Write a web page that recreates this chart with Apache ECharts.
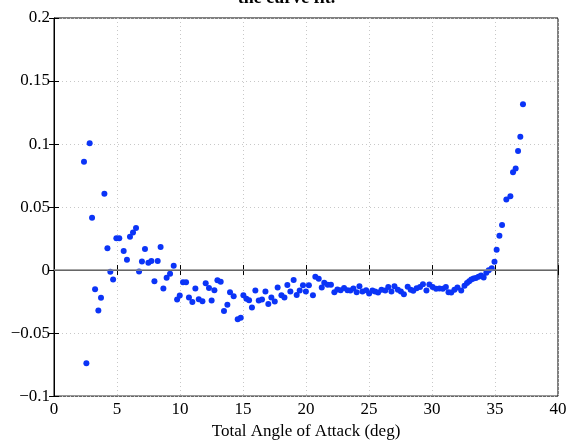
<!DOCTYPE html>
<html>
<head>
<meta charset="utf-8">
<script src="https://cdn.jsdelivr.net/npm/echarts@6/dist/echarts.min.js"></script>
<style>
  html, body { margin: 0; padding: 0; background: #fff; }
  #chart { width: 573px; height: 445px; }
</style>
</head>
<body>
<div id="chart"></div>
<script>
// angle of attack (deg) and residual values
var alphaDeg = [
  2.38, 2.57, 2.83, 3.02, 3.26, 3.52, 3.73, 4.00, 4.24, 4.47,
  4.69, 4.95, 5.18, 5.53, 5.79, 6.03, 6.27, 6.51, 6.75, 6.98,
  7.22, 7.49, 7.73, 7.97, 8.23, 8.46, 8.68, 8.94, 9.21, 9.50,
  9.77, 9.98, 10.24, 10.48, 10.71, 10.98, 11.22, 11.49, 11.78, 12.04,
  12.30, 12.51, 12.73, 12.97, 13.23, 13.49, 13.76, 13.97, 14.26, 14.58,
  14.82, 15.03, 15.27, 15.48, 15.71, 15.98, 16.25, 16.51, 16.78, 17.01,
  17.25, 17.52, 17.75, 18.05, 18.29, 18.52, 18.76, 19.02, 19.26, 19.50,
  19.76, 19.99, 20.23, 20.55, 20.74, 21.01, 21.25, 21.45, 21.72, 21.98,
  22.25, 22.49, 22.75, 23.02, 23.29, 23.52, 23.76, 24.02, 24.24, 24.48,
  24.77, 25.01, 25.27, 25.48, 25.72, 25.99, 26.29, 26.53, 26.78, 27.02,
  27.29, 27.53, 27.77, 28.07, 28.31, 28.51, 28.78, 29.05, 29.28, 29.56,
  29.79, 30.05, 30.32, 30.59, 30.86, 31.10, 31.31, 31.53, 31.78, 32.02,
  32.32, 32.58, 32.78, 32.95, 33.12, 33.30, 33.48, 33.69, 33.89, 34.10,
  34.31, 34.50, 34.74, 34.96, 35.13, 35.35, 35.56, 35.90, 36.22, 36.43,
  36.64, 36.83, 37.01, 37.22
];
var residual = [
  0.086, -0.074, 0.1006, 0.0415, -0.0152, -0.032, -0.022, 0.0606, 0.0173, -0.0013,
  -0.0074, 0.0252, 0.0252, 0.0152, 0.0081, 0.0265, 0.0299, 0.0333, -0.0011, 0.0068,
  0.0168, 0.0058, 0.0071, -0.0089, 0.0071, 0.0184, -0.0147, -0.006, -0.0029, 0.0034,
  -0.0234, -0.0202, -0.0097, -0.0097, -0.0218, -0.0254, -0.0147, -0.0231, -0.0247, -0.0105,
  -0.0142, -0.0241, -0.016, -0.0081, -0.0092, -0.0325, -0.0276, -0.0176, -0.0207, -0.0391,
  -0.0378, -0.0199, -0.0228, -0.0239, -0.0297, -0.0163, -0.0241, -0.0234, -0.0171, -0.027,
  -0.0218, -0.025, -0.0139, -0.0199, -0.0218, -0.0118, -0.0171, -0.0079, -0.0197, -0.0163,
  -0.0121, -0.0171, -0.0121, -0.0199, -0.0053, -0.0068, -0.0139, -0.01, -0.0116, -0.0116,
  -0.0176, -0.0155, -0.016, -0.0142, -0.016, -0.0163, -0.0147, -0.0176, -0.0129, -0.0171,
  -0.016, -0.0186, -0.0162, -0.017, -0.0178, -0.0157, -0.0162, -0.0135, -0.017, -0.0128,
  -0.0157, -0.017, -0.0191, -0.0133, -0.0157, -0.0165, -0.0144, -0.0135, -0.0112, -0.0162,
  -0.0115, -0.0135, -0.0149, -0.0146, -0.0149, -0.0135, -0.0176, -0.0178, -0.0157, -0.0139,
  -0.0162, -0.0125, -0.0102, -0.0088, -0.0075, -0.0067, -0.0062, -0.0054, -0.0044, -0.0059,
  -0.0022, -0.0001, 0.0014, 0.0065, 0.0162, 0.0273, 0.0357, 0.0559, 0.0585, 0.0777,
  0.0806, 0.0945, 0.1058, 0.1315
];
var yTickLabels = { '-0.1': '\u22120.1', '-0.05': '\u22120.05', '0': '0', '0.05': '0.05', '0.1': '0.1', '0.15': '0.15', '0.2': '0.2' };

var points = alphaDeg.map(function (a, i) { return [a, residual[i]]; });

var myChart = echarts.init(document.getElementById('chart'));
var serif = '"Liberation Serif", "DejaVu Serif", serif';

var gridLine = { show: true, lineStyle: { color: '#c8c8c8', type: [1, 3], width: 1 } };
var tickIn = { show: true, inside: true, length: 5, lineStyle: { color: '#000' } };

var option = {
  animation: false,
  backgroundColor: '#fff',
  graphic: [
    {
      type: 'text',
      left: 'center',
      top: -11,
      style: { text: 'the curve fit.', font: 'bold 18px ' + serif, fill: '#000' }
    }
  ],
  grid: {
    left: 54,
    right: 15,
    top: 18,
    bottom: 46,
    show: true,
    borderColor: '#000',
    borderWidth: 1
  },
  xAxis: [
    {
      type: 'value',
      min: 0,
      max: 40,
      interval: 5,
      name: 'Total Angle of Attack (deg)',
      nameLocation: 'middle',
      nameGap: 24,
      nameTextStyle: { fontFamily: serif, fontSize: 17, color: '#000' },
      axisLine: { show: true, lineStyle: { color: '#000' } },
      axisTick: tickIn,
      axisLabel: { fontFamily: serif, fontSize: 17, color: '#000', margin: 5 },
      splitLine: gridLine
    },
    {
      type: 'value',
      position: 'top',
      min: 0,
      max: 40,
      interval: 5,
      axisLine: { show: false },
      axisTick: tickIn,
      axisLabel: { show: false },
      splitLine: { show: false }
    }
  ],
  yAxis: [
    {
      type: 'value',
      min: -0.1,
      max: 0.2,
      interval: 0.05,
      axisLine: { show: true, lineStyle: { color: '#000' } },
      axisTick: tickIn,
      axisLabel: {
        fontFamily: serif, fontSize: 17, color: '#000', margin: 4,
        formatter: function (v) { return yTickLabels[String(+v.toFixed(2))] || v; }
      },
      splitLine: gridLine
    },
    {
      type: 'value',
      position: 'right',
      min: -0.1,
      max: 0.2,
      interval: 0.05,
      axisLine: { show: false },
      axisTick: tickIn,
      axisLabel: { show: false },
      splitLine: { show: false }
    }
  ],
  series: [
    {
      name: 'residual',
      type: 'scatter',
      symbol: 'circle',
      symbolSize: 6,
      itemStyle: { color: '#0b34f7', opacity: 1 },
      data: points,
      markLine: {
        silent: true,
        symbol: 'none',
        label: { show: false },
        lineStyle: { color: '#888', type: 'solid', width: 1.5 },
        data: [{ yAxis: 0 }]
      },
      z: 3
    }
  ]
};

myChart.setOption(option, true);
</script>
</body>
</html>
